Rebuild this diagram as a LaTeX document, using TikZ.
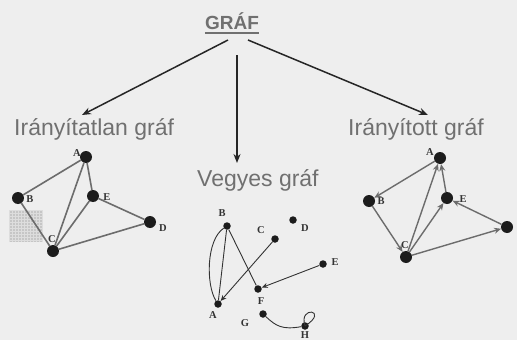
\documentclass[tikz,border=0pt]{standalone}
\usepackage{fontspec}
\setmainfont{Liberation Serif}
\newfontfamily\headfont{Liberation Sans}
\usetikzlibrary{arrows.meta}
\definecolor{bg}{RGB}{238,238,238}
\definecolor{headgray}{RGB}{112,112,112}
\definecolor{edgegray}{RGB}{108,108,108}
\definecolor{dotcol}{RGB}{28,28,28}
\definecolor{hatch}{RGB}{198,198,198}
\begin{document}
\begin{tikzpicture}[x=1pt,y=-1pt,
  head/.style={font=\headfont\fontsize{23}{23}\selectfont, text=headgray, inner sep=0, anchor=base west},
  toparrow/.style={draw=black!85, line width=1.5pt, -{Stealth[length=9pt,width=7pt]}},
  bigdot/.style={circle, fill=dotcol, minimum size=12pt, inner sep=0},
  smalldot/.style={circle, fill=dotcol, minimum size=7.5pt, inner sep=0},
  lett/.style={font=\bfseries\fontsize{10.5}{10.5}\selectfont, text=black!80, inner sep=0},
  uedge/.style={draw=edgegray, line width=1.6pt},
  medge/.style={draw=black!80, line width=0.9pt},
  marrow/.style={medge, -{Stealth[length=6pt,width=5pt]}},
  dedge/.style={draw=edgegray, line width=1.4pt, -{Stealth[length=7pt,width=6pt]}}
]
\useasboundingbox (0,0) rectangle (517,340);
\fill[bg] (0,0) rectangle (517,340);

% title
\node[font=\headfont\bfseries\fontsize{19}{19}\selectfont, text=headgray, inner sep=0, anchor=base] (title) at (232,30) {GRÁF};
\draw[headgray, line width=1.6pt] ([yshift=-2.8pt]title.base west) -- ([yshift=-2.8pt]title.base east);

% headings
\node[head] (undir) at (14,135) {Irányítatlan gráf};
\node[head] (mixed) at (197,186) {Vegyes gráf};
\node[head] (dir) at (348,135) {Irányított gráf};

% top arrows
\coordinate (tl) at (228,40);
\coordinate (tm) at (237,55);
\coordinate (tr) at (248,40);
\coordinate (hl) at (82,115);
\coordinate (hm) at (237,163);
\coordinate (hr) at (428,115);
\draw[toparrow] (tl) -- (hl);
\draw[toparrow] (tm) -- (hm);
\draw[toparrow] (tr) -- (hr);

% hatched rectangle
\fill[hatch] (9,210) rectangle (43,242);
\draw[white!40!hatch, line width=0.2pt, step=3pt] (9,210) grid (43,242);

% ---- undirected graph ----
\node[bigdot] (uA) at (86,157) {};
\node[bigdot] (uB) at (18,198) {};
\node[bigdot] (uE) at (93,196) {};
\node[bigdot] (uD) at (150,222) {};
\node[bigdot] (uC) at (53,251) {};
\draw[uedge] (uA) -- (uB);
\draw[uedge] (uA) -- (uC);
\draw[uedge] (uA) -- (uE);
\draw[uedge] (uB) -- (uC);
\draw[uedge] (uE) -- (uC);
\draw[uedge] (uE) -- (uD);
\draw[uedge] (uC) -- (uD);
\node[lett] (luA) at (77,153) {A};
\node[lett] (luB) at (30,199) {B};
\node[lett] (luE) at (107,197) {E};
\node[lett] (luD) at (163,228) {D};
\node[lett] (luC) at (52,239) {C};

% ---- mixed graph ----
\node[smalldot] (mB) at (227,226) {};
\node[smalldot] (mC) at (275,239) {};
\node[smalldot] (mD) at (293,220) {};
\node[smalldot] (mE) at (323,264) {};
\node[smalldot] (mF) at (258,289) {};
\node[smalldot] (mA) at (218,304) {};
\node[smalldot] (mG) at (263,314) {};
\node[smalldot] (mH) at (305,326) {};
\draw[medge] (mB) -- (mA);
\draw[medge] (mB) .. controls (206,240) and (206,285) .. (mA);
\draw[medge] (mB) -- (mF);
\draw[marrow] (mC) -- (mA);
\draw[marrow] (mE) -- (mF);
\draw[medge] (mG) .. controls (276,326) and (282,330) .. (mH);
\draw[medge] (mH.center) .. controls (298,305) and (330,310) .. (mH.center);
\node[lett] (lmB) at (222,213) {B};
\node[lett] (lmC) at (261,230) {C};
\node[lett] (lmD) at (305,228) {D};
\node[lett] (lmE) at (335,262) {E};
\node[lett] (lmF) at (261,301) {F};
\node[lett] (lmA) at (213,315) {A};
\node[lett] (lmG) at (245,323) {G};
\node[lett] (lmH) at (305,335) {H};

% ---- directed graph ----
\node[bigdot] (dA) at (440,158) {};
\node[bigdot] (dB) at (369,201) {};
\node[bigdot] (dE) at (447,198) {};
\node[bigdot] (dD) at (507,227) {};
\node[bigdot] (dC) at (406,257) {};
\draw[dedge] (dA) -- (dB);
\draw[dedge] (dB) -- (dC);
\draw[dedge] (dC) -- (dA);
\draw[dedge] (dC) -- (dE);
\draw[dedge] (dE) -- (dA);
\draw[dedge] (dD) -- (dE);
\draw[dedge] (dC) -- (dD);
\node[lett] (ldA) at (430,152) {A};
\node[lett] (ldB) at (381,201) {B};
\node[lett] (ldE) at (463,199) {E};
\node[lett] (ldC) at (405,245) {C};
\end{tikzpicture}
\end{document}
